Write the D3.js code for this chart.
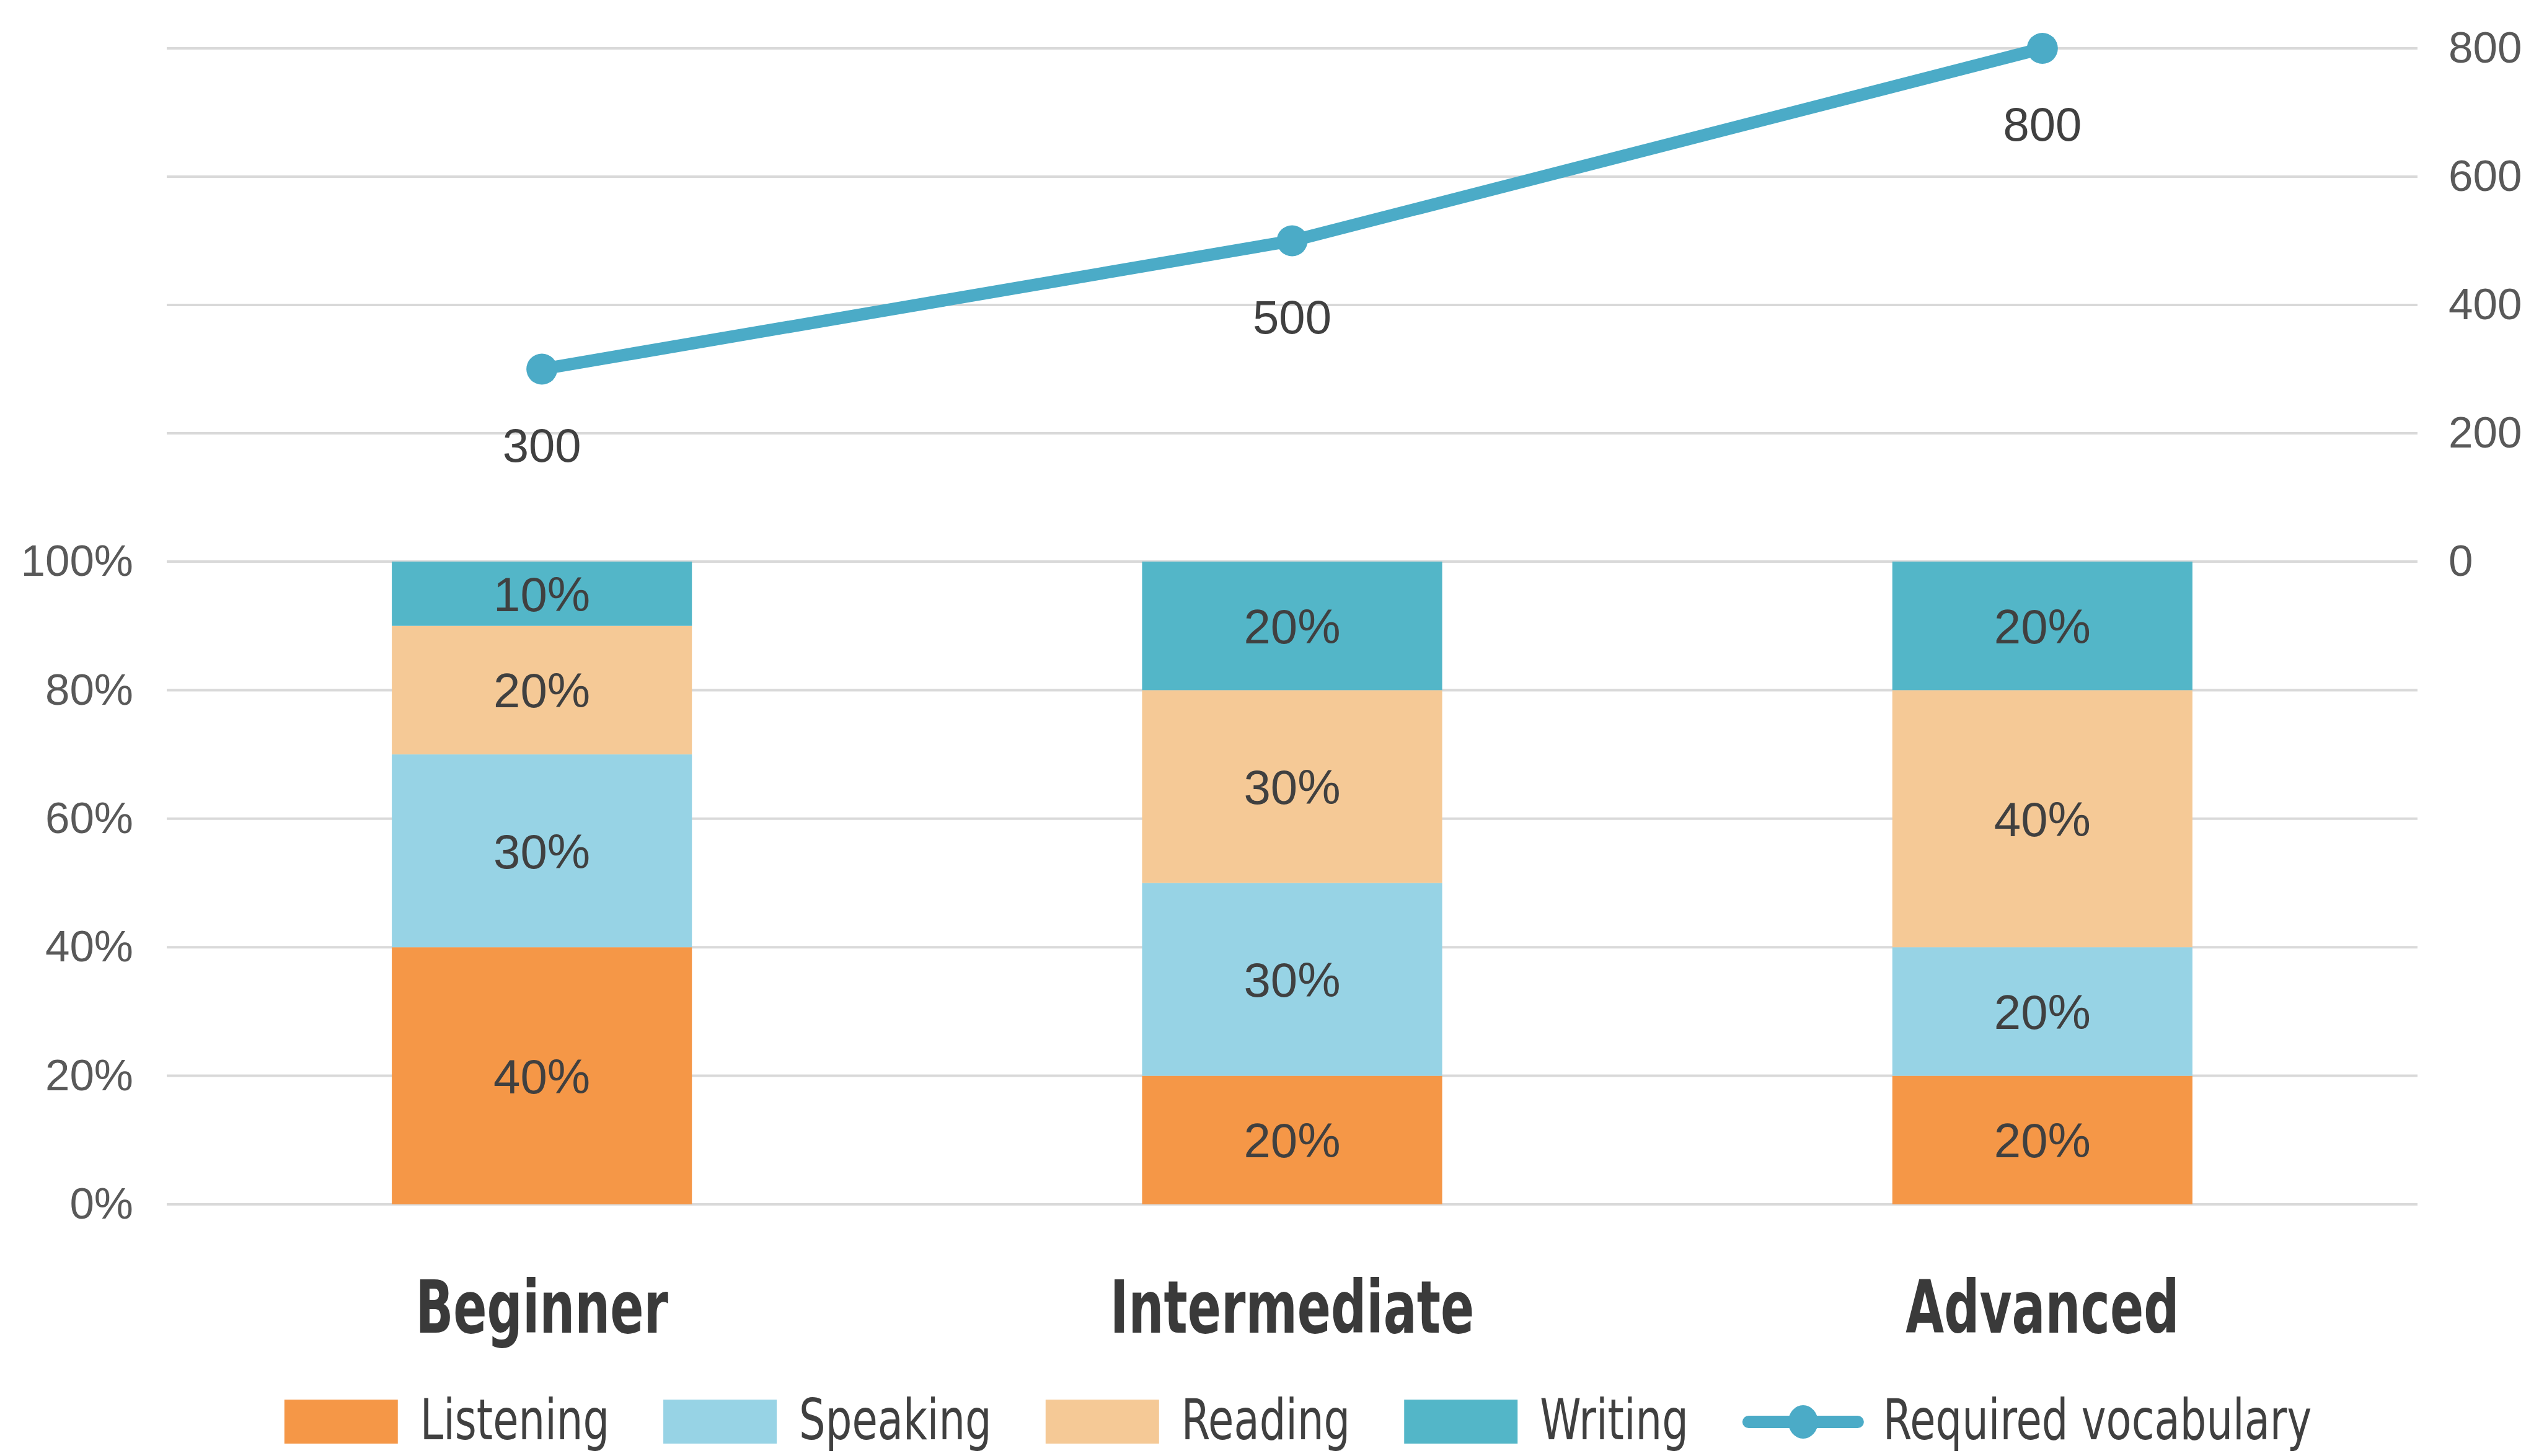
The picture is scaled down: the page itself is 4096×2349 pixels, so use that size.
<!DOCTYPE html>
<html>
<head>
<meta charset="utf-8">
<script src="https://cdn.jsdelivr.net/npm/d3@7"></script>
<style>
  body { margin: 0; background: #ffffff; }
  svg { display: block; }
</style>
</head>
<body>
<div id="chart"></div>
<script>
// data
const levels = ["Beginner", "Intermediate", "Advanced"];
const skills = ["Listening", "Speaking", "Reading", "Writing"];
const listening = [0.4, 0.2, 0.2];
const speaking = [0.3, 0.3, 0.2];
const reading = [0.2, 0.3, 0.4];
const writing = [0.1, 0.2, 0.2];
const vocabulary = [300, 500, 800];
const vocabName = "Required vocabulary";
const pctTicks = [0, 0.2, 0.4, 0.6, 0.8, 1];
const vocabTicks = [0, 200, 400, 600, 800];

const colors = ["#F59747", "#97D3E5", "#F5C996", "#53B6C8"];
const lineColor = "#4BABC7";
const textColor = "#404040";

const width = 4096, height = 2349;
const plot = { left: 269, right: 3900, top: 78, mid: 906, bottom: 1943 };
const narrowFont = "'DejaVu Sans Condensed', 'DejaVu Sans', sans-serif";
const numFont = "'Liberation Sans', Arial, sans-serif";

const svg = d3.select("#chart").append("svg")
  .attr("width", width)
  .attr("height", height);

// rows for the stack
const rows = levels.map((lv, i) => ({
  level: lv,
  Listening: listening[i],
  Speaking: speaking[i],
  Reading: reading[i],
  Writing: writing[i]
}));
const stacked = d3.stack().keys(skills)(rows);

// scales
const x = d3.scaleBand().domain(levels).range([plot.left, plot.right]).padding(0);
const barW = x.bandwidth() * 0.4;
const yPct = d3.scaleLinear().domain([0, 1]).range([plot.bottom, plot.mid]);
const yVoc = d3.scaleLinear().domain([0, 800]).range([plot.mid, plot.top]);

// grid lines (both axes share one grid)
const grid = svg.append("g");
grid.selectAll("line.p").data(pctTicks).enter().append("line")
  .attr("x1", plot.left).attr("x2", plot.right)
  .attr("y1", d => yPct(d)).attr("y2", d => yPct(d))
  .attr("stroke", "#D9D9D9").attr("stroke-width", 4);
grid.selectAll("line.v").data(vocabTicks.slice(1)).enter().append("line")
  .attr("x1", plot.left).attr("x2", plot.right)
  .attr("y1", d => yVoc(d)).attr("y2", d => yVoc(d))
  .attr("stroke", "#D9D9D9").attr("stroke-width", 4);

// left axis (percent)
const leftAx = svg.append("g")
  .attr("transform", `translate(${plot.left},0)`)
  .call(d3.axisLeft(yPct).tickValues(pctTicks).tickFormat(d3.format(".0%")).tickSize(0).tickPadding(54));
leftAx.select(".domain").remove();
leftAx.selectAll("text")
  .attr("font-family", numFont)
  .attr("font-size", 71)
  .attr("fill", "#595959");

// right axis (vocabulary)
const rightAx = svg.append("g")
  .attr("transform", `translate(${plot.right},0)`)
  .call(d3.axisRight(yVoc).tickValues(vocabTicks).tickSize(0).tickPadding(50));
rightAx.select(".domain").remove();
rightAx.selectAll("text")
  .attr("font-family", numFont)
  .attr("font-size", 71)
  .attr("fill", "#595959");

// stacked bars
const layers = svg.append("g").selectAll("g")
  .data(stacked).enter().append("g")
  .attr("fill", (d, i) => colors[i]);

layers.selectAll("rect")
  .data(d => d.map(s => ({ s: s, key: d.key })))
  .enter().append("rect")
  .attr("x", d => x(d.s.data.level) + (x.bandwidth() - barW) / 2)
  .attr("y", d => yPct(d.s[1]))
  .attr("width", barW)
  .attr("height", d => yPct(d.s[0]) - yPct(d.s[1]));

layers.selectAll("text")
  .data(d => d.map(s => ({ s: s, key: d.key })))
  .enter().append("text")
  .attr("x", d => x(d.s.data.level) + x.bandwidth() / 2)
  .attr("y", d => (yPct(d.s[0]) + yPct(d.s[1])) / 2 + 28)
  .attr("text-anchor", "middle")
  .attr("font-family", numFont)
  .attr("font-size", 78)
  .attr("fill", textColor)
  .text(d => d3.format(".0%")(d.s[1] - d.s[0]));

// category axis, squeezed to look like the condensed font of the original
const bottomAx = svg.append("g")
  .attr("transform", `translate(0,${plot.bottom})`)
  .call(d3.axisBottom(x).tickSize(0));
bottomAx.select(".domain").remove();
bottomAx.selectAll("text")
  .attr("dy", null)
  .attr("y", 0)
  .attr("transform", "translate(0,207) scale(0.76,1)")
  .attr("font-family", narrowFont)
  .attr("font-weight", "bold")
  .attr("font-size", 117)
  .attr("fill", "#3A3A3A");

// vocabulary line
const pts = levels.map((lv, i) => [x(lv) + x.bandwidth() / 2, yVoc(vocabulary[i])]);
svg.append("path")
  .datum(pts)
  .attr("d", d3.line())
  .attr("fill", "none")
  .attr("stroke", lineColor)
  .attr("stroke-width", 20)
  .attr("stroke-linejoin", "round");

svg.selectAll("circle.pt").data(pts).enter().append("circle")
  .attr("cx", d => d[0]).attr("cy", d => d[1])
  .attr("r", 25)
  .attr("fill", lineColor);

svg.selectAll("text.vl").data(vocabulary).enter().append("text")
  .attr("x", (d, i) => pts[i][0])
  .attr("y", (d, i) => pts[i][1] + 149)
  .attr("text-anchor", "middle")
  .attr("font-family", numFont)
  .attr("font-size", 76)
  .attr("fill", textColor)
  .text(d => d);

// legend
const legend = svg.append("g");
const legY = 2294;
const legSx = 0.83;
function legText(x0, s) {
  const t = legend.append("text")
    .attr("transform", `translate(${x0},${legY + 28}) scale(${legSx},1)`)
    .attr("font-family", narrowFont)
    .attr("font-size", 90)
    .attr("fill", textColor)
    .text(s);
  return t.node().getComputedTextLength() * legSx;
}
let cx = 0;
skills.forEach((s, i) => {
  legend.append("rect")
    .attr("x", cx).attr("y", legY - 36)
    .attr("width", 183).attr("height", 71)
    .attr("fill", colors[i]);
  cx += 219 + legText(cx + 219, s) + 87;
});
legend.append("line")
  .attr("x1", cx + 10).attr("x2", cx + 186)
  .attr("y1", legY).attr("y2", legY)
  .attr("stroke", lineColor).attr("stroke-width", 20)
  .attr("stroke-linecap", "round");
legend.append("ellipse")
  .attr("cx", cx + 98).attr("cy", legY)
  .attr("rx", 24).attr("ry", 27)
  .attr("fill", lineColor);
const legW = cx + 227 + legText(cx + 227, vocabName);
legend.attr("transform", `translate(${2094 - legW / 2},0)`);
</script>
</body>
</html>
